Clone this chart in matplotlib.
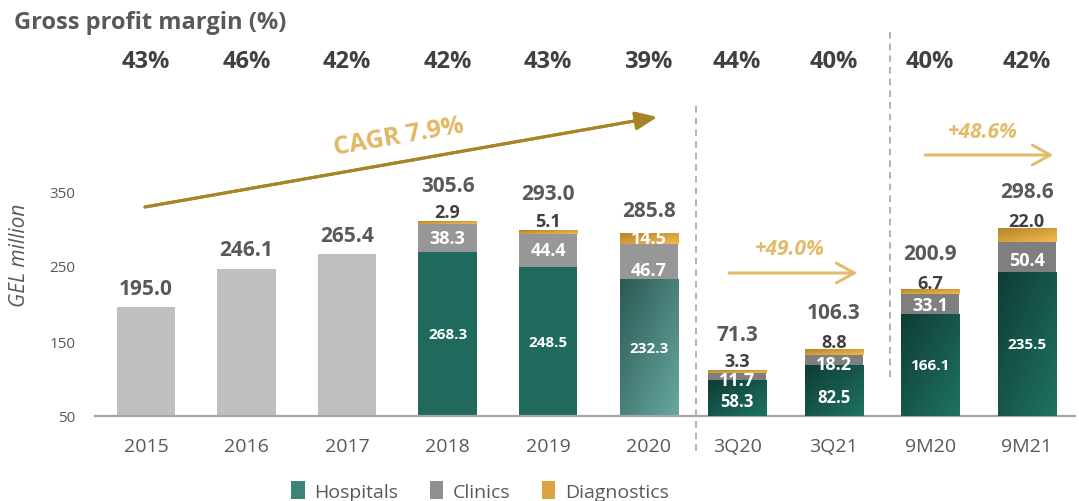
import numpy as np
import matplotlib
matplotlib.use('Agg')
import matplotlib.pyplot as plt
import matplotlib.transforms as mtransforms
from matplotlib.patches import Patch
from matplotlib.lines import Line2D
from matplotlib.colors import LinearSegmentedColormap

plt.rcParams['font.family'] = ['Open Sans', 'DejaVu Sans']

# ---- data ----
years = ['2015', '2016', '2017', '2018', '2019', '2020']
year_total = [195.0, 246.1, 265.4, 305.6, 293.0, 285.8]
year_hosp = [268.3, 248.5, 232.3]      # 2018-2020
year_clin = [38.3, 44.4, 46.7]
year_diag = [2.9, 5.1, 14.5]

periods = ['3Q20', '3Q21', '9M20', '9M21']
per_total = [71.3, 106.3, 200.9, 298.6]
per_hosp = [58.3, 82.5, 166.1, 235.5]
per_clin = [11.7, 18.2, 33.1, 50.4]
per_diag = [3.3, 8.8, 6.7, 22.0]

margins = ['43%', '46%', '42%', '42%', '43%', '39%', '44%', '40%', '40%', '42%']
legend_labels = ['Hospitals', 'Clinics', 'Diagnostics']

# ---- layout ----
W, H = 1079, 502
def fpx(x, y):
    # figure pixel (from top-left) -> figure fraction
    return (x / W, 1 - y / H)

DARK = '#404040'
MID = '#595959'
GOLD_TXT = '#E0B865'

fig = plt.figure(figsize=(W / 100, H / 100), dpi=100)
ax = fig.add_axes([95 / W, 1 - 417 / H, 980 / W, 377 / H])
ax2 = ax.twinx()

ylo = 50
year_x = np.arange(len(years))
per_x = 5.88 + 0.96 * np.arange(len(periods))
bw = 0.58


def shade(a, bars, c1, c2, floor=0):
    # diagonal gradient fill (dark top-left -> light bottom-right)
    cmap = LinearSegmentedColormap.from_list('g', [c1, c2])
    n = 60
    grad = np.add.outer(1 - np.linspace(0, 1, n), np.linspace(0, 1, n)) / 2
    for b in bars:
        x0, y0 = b.get_x(), b.get_y()
        w, h = b.get_width(), b.get_height()
        y0c = max(y0, floor)
        a.imshow(grad, cmap=cmap, origin='lower', aspect='auto',
                 extent=(x0, x0 + w, y0c, y0 + h), zorder=3)
        b.set_facecolor('none')


# annual bars (primary axis)
ax.bar(year_x[:3], year_total[:3], bw, color='#BFBFBF', zorder=2)
hx = year_x[3:]
hosp = np.array(year_hosp)
clin = np.array(year_clin)
diag = np.array(year_diag)
b_h = ax.bar(hx, hosp, bw, color='#20695D', zorder=2)
b_c = ax.bar(hx, clin, bw, bottom=hosp, color='#979797', zorder=2)
b_d = ax.bar(hx, diag, bw, bottom=hosp + clin, color='#D9A441', zorder=2)
shade(ax, [b_h[2]], '#2C5A55', '#66A8A0', floor=ylo)
shade(ax, b_d, '#B5852C', '#F2BA4E', floor=ylo)

# interim bars (secondary axis)
ph = np.array(per_hosp)
pc = np.array(per_clin)
pd_ = np.array(per_diag)
q_h = ax2.bar(per_x, ph, bw, color='#1A5E52', zorder=2)
q_c = ax2.bar(per_x, pc, bw, bottom=ph, color='#7F7F7F', zorder=2)
q_d = ax2.bar(per_x, pd_, bw, bottom=ph + pc, color='#D9A441', zorder=2)
shade(ax2, q_h, '#0E3D35', '#1F7262')
shade(ax2, q_d, '#B5852C', '#F2BA4E')

ax.set_xlim(-0.507, 9.24)
ax.set_ylim(ylo, ylo + 377 / 0.75)
ax2.set_ylim(0, 377 / 0.61)

# ---- value labels ----
def lab(a, x, y, s, dy, color, size):
    a.annotate(s, (x, y), xytext=(0, dy), textcoords='offset pixels',
               ha='center', va='center', fontsize=size, fontweight='bold',
               color=color, zorder=6, annotation_clip=False)

for i in range(3):
    lab(ax, year_x[i], year_total[i], f'{year_total[i]:.1f}', 19, MID, 15)

clin_dy = [0, 0, -8]
for k in range(3):
    x = hx[k]
    top = hosp[k] + clin[k] + diag[k]
    lab(ax, x, (ylo + hosp[k]) / 2, f'{hosp[k]:.1f}', 0, 'white', 11)
    lab(ax, x, hosp[k] + clin[k] / 2, f'{clin[k]:.1f}', clin_dy[k], 'white', 13)
    if k < 2:
        lab(ax, x, top, f'{diag[k]:.1f}', 9, DARK, 13)
        lab(ax, x, top, f'{year_total[k + 3]:.1f}', 36, MID, 15)
    else:
        lab(ax, x, top, f'{diag[k]:.1f}', -5, 'white', 13)
        lab(ax, x, top, f'{year_total[k + 3]:.1f}', 23, MID, 15)

hosp_dy = [-3, -6, 0, 0]
clin_dy2 = [-3, -4, 0, -3]
diag_dy = [10, 7, 7, 7]
for k in range(4):
    x = per_x[k]
    top = ph[k] + pc[k] + pd_[k]
    lab(ax2, x, ph[k] / 2, f'{ph[k]:.1f}', hosp_dy[k], 'white', 12 if k < 2 else 11)
    lab(ax2, x, ph[k] + pc[k] / 2, f'{pc[k]:.1f}', clin_dy2[k], 'white', 13)
    lab(ax2, x, top, f'{pd_[k]:.1f}', diag_dy[k], DARK, 13)
    lab(ax2, x, top, f'{per_total[k]:.1f}', 37, MID, 15)

# ---- axes styling ----
all_x = np.concatenate([year_x, per_x])
ax.set_xticks(all_x, years + periods)
ax.tick_params(axis='x', length=0, pad=15, labelsize=14, labelcolor=MID)
ax.set_yticks([50, 150, 250, 350])
ax.tick_params(axis='y', length=0, pad=14, labelsize=11, labelcolor=MID)
ax2.set_yticks([])
for s in ['top', 'right', 'left']:
    ax.spines[s].set_visible(False)
for s in ax2.spines.values():
    s.set_visible(False)
ax.spines['bottom'].set_color('#A6A6A6')
ax.spines['bottom'].set_linewidth(1.6)
ax.spines['bottom'].set_zorder(5)

# ---- margins row + title ----
tr = mtransforms.blended_transform_factory(ax.transData, fig.transFigure)
for x, m in zip(all_x, margins):
    ax.text(x, 1 - 62 / H, m, transform=tr, ha='center', va='center',
            fontsize=17, fontweight='bold', color=DARK)

fig.text(*fpx(14, 23), 'Gross profit margin (%)', ha='left', va='center',
         fontsize=17, fontweight='bold', color=MID)
fig.text(*fpx(20, 255), 'GEL million', rotation=90, ha='center', va='center',
         fontsize=15, style='italic', color=MID)

# ---- separators ----
for xp, y0, y1 in [(696, 107, 457), (890, 33, 382)]:
    fig.add_artist(Line2D([xp / W, xp / W], [1 - y0 / H, 1 - y1 / H],
                          transform=fig.transFigure, color='#A6A6A6',
                          lw=1.2, ls=(0, (4, 3))))

# ---- growth arrows ----
fig.add_artist(plt.annotate('', xy=fpx(657, 118), xytext=fpx(145, 208),
                            xycoords='figure fraction', textcoords='figure fraction',
                            arrowprops=dict(arrowstyle='-|>,head_length=1.3,head_width=0.55',
                                            mutation_scale=10, color='#A88428', lw=2.2,
                                            shrinkA=0, shrinkB=0)))
fig.text(*fpx(399, 137), 'CAGR 7.9%', rotation=10, rotation_mode='anchor',
         ha='center', va='center', fontsize=18, fontweight='bold', color=GOLD_TXT)

for (x0, x1, y), (tx, ty), s in [((729, 857, 274), (790, 250), '+49.0%'),
                                 ((925, 1053, 156), (983, 133), '+48.6%')]:
    fig.add_artist(plt.annotate('', xy=fpx(x1, y), xytext=fpx(x0, y),
                                xycoords='figure fraction', textcoords='figure fraction',
                                arrowprops=dict(arrowstyle='->,head_length=1.3,head_width=0.72',
                                                mutation_scale=10, color='#E2BC6A', lw=1.9,
                                                shrinkA=0, shrinkB=0)))
    fig.text(*fpx(tx, ty), s, ha='center', va='center', fontsize=15,
             fontweight='bold', style='italic', color='#E2BC6A')

# ---- legend ----
handles = [Patch(facecolor='#3F8278'), Patch(facecolor='#8F8F8F'), Patch(facecolor='#D9A441')]
fig.legend(handles, legend_labels, loc='center', bbox_to_anchor=fpx(480, 492), ncol=3,
           frameon=False, fontsize=14, handlelength=0.7, handleheight=1.0,
           handletextpad=0.5, columnspacing=1.6, labelcolor=MID)

fig.savefig('out.png', dpi=100)
